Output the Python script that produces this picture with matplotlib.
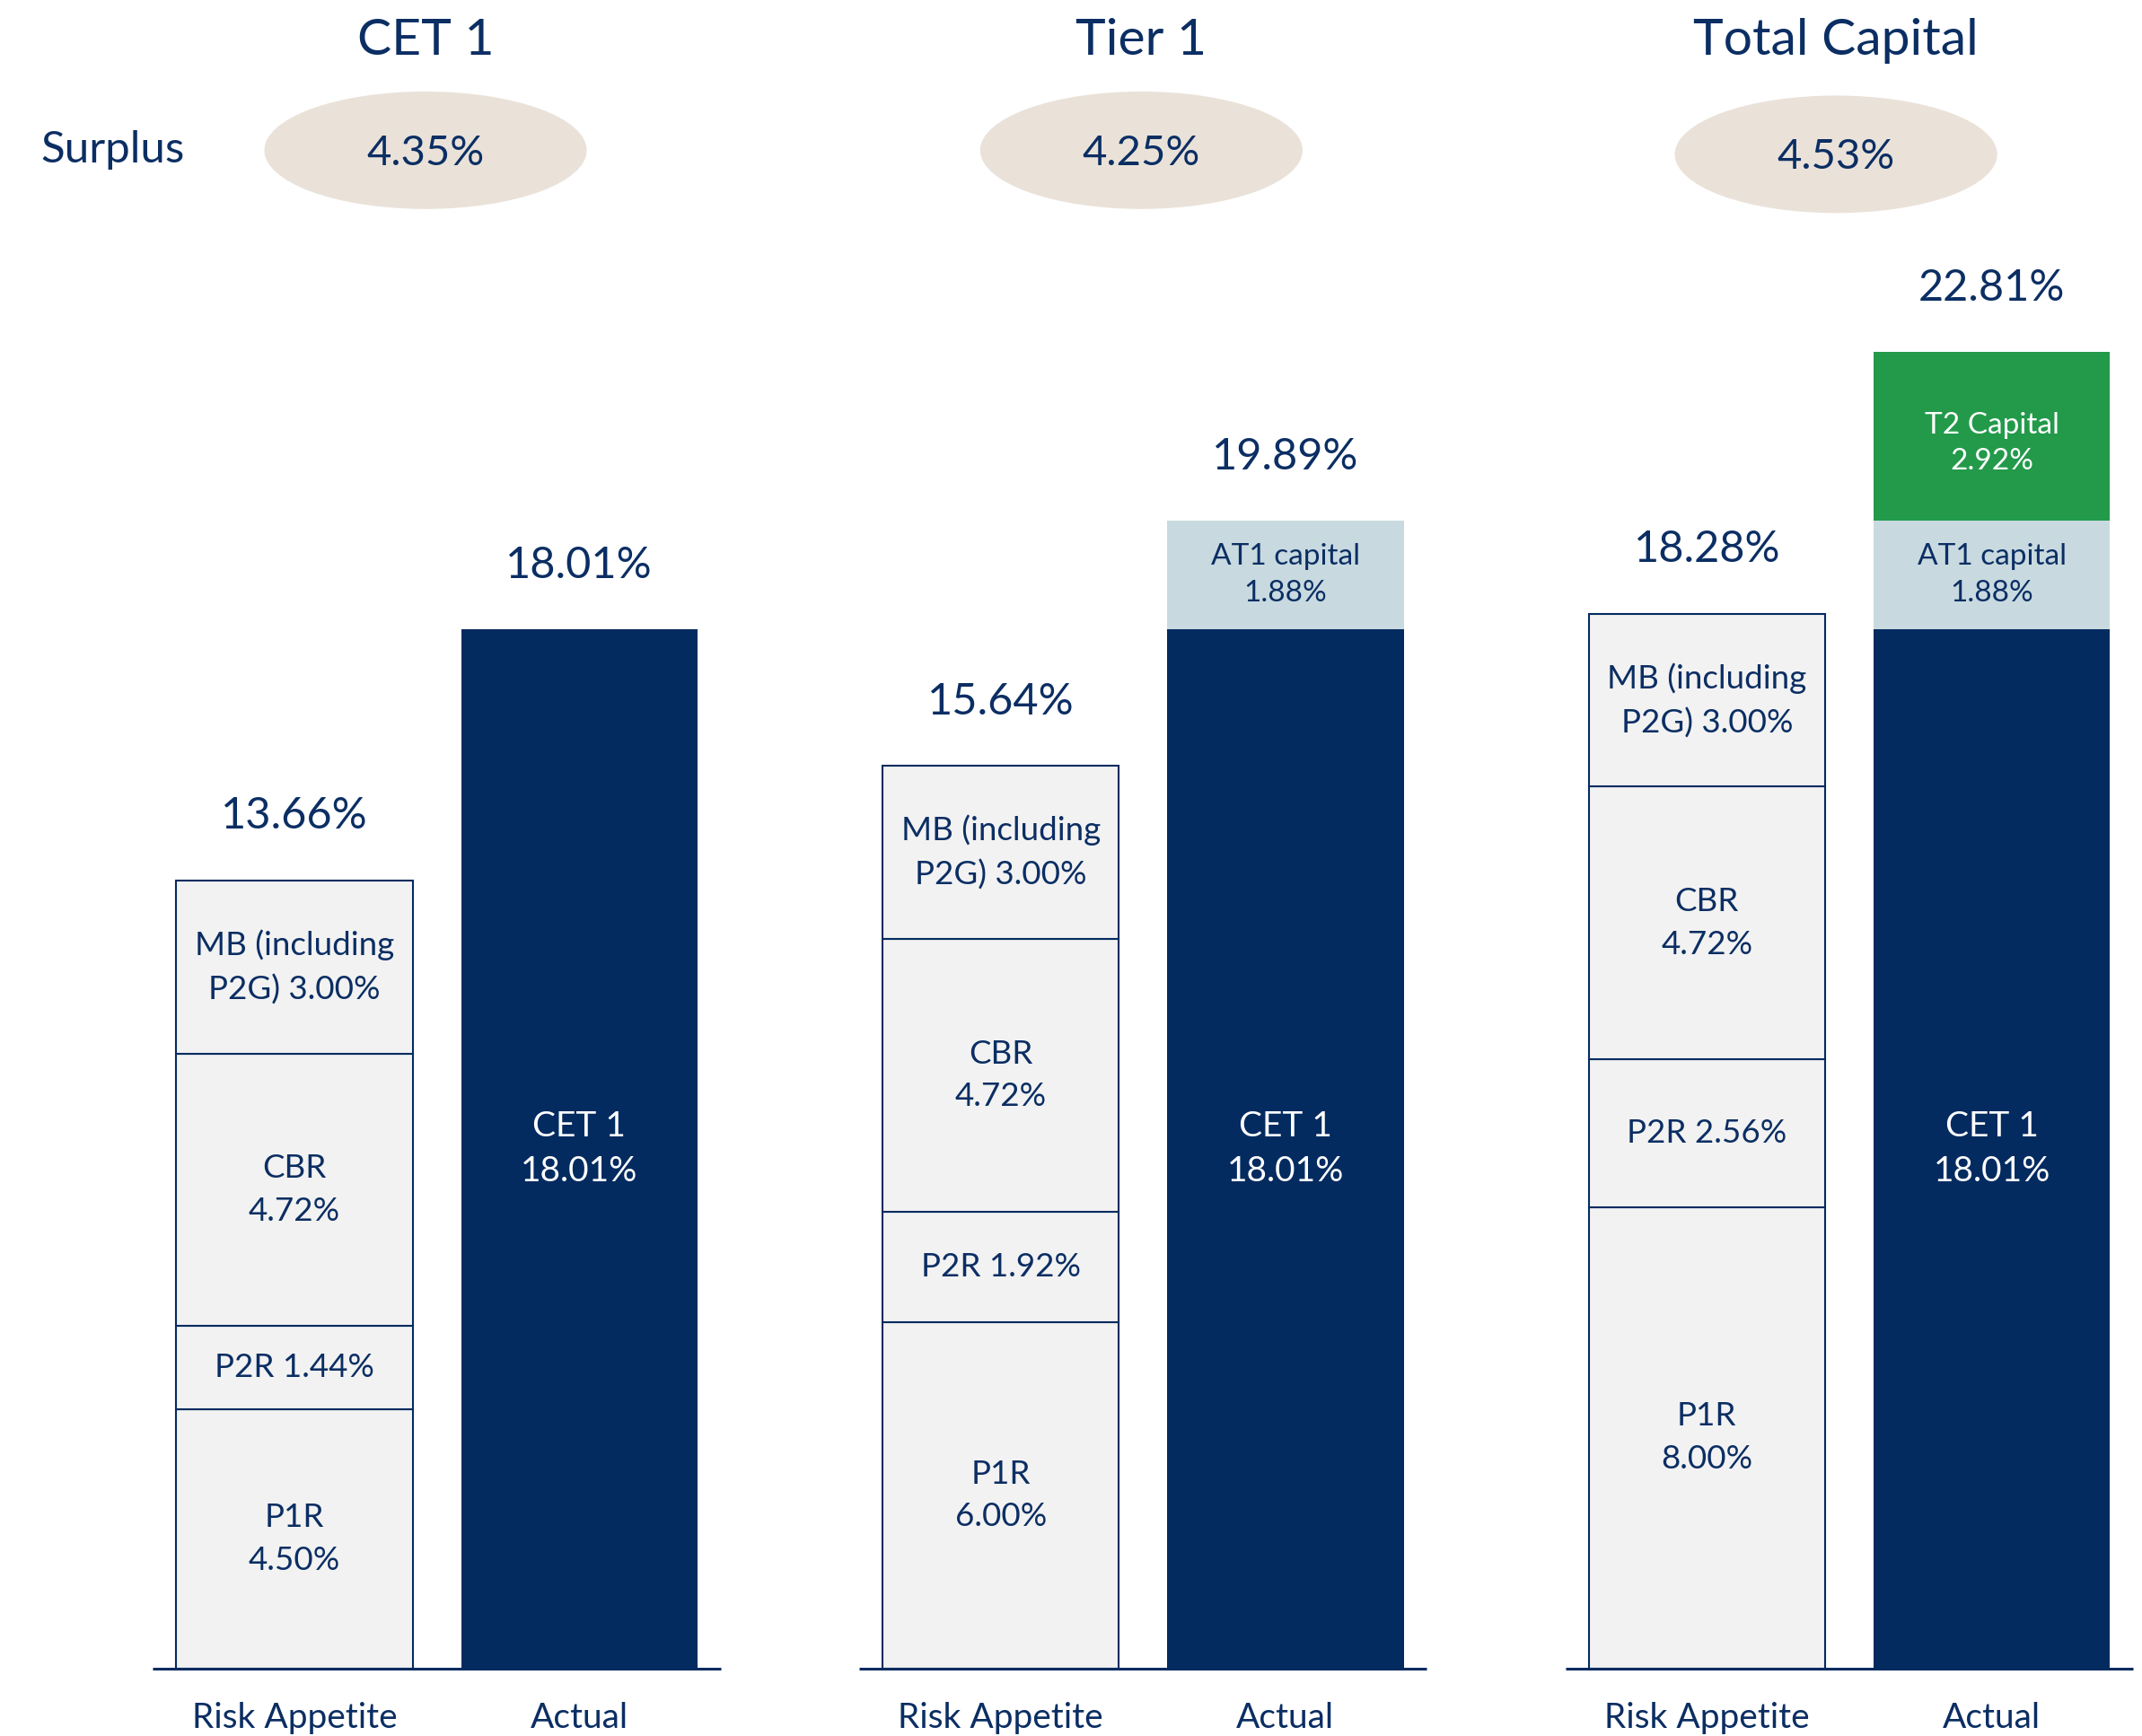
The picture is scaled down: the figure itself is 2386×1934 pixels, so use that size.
import numpy as np
import matplotlib.pyplot as plt
from matplotlib.patches import Ellipse

# panel titles and surplus bubbles
panels = ["CET 1", "Tier 1", "Total Capital"]
surplus = ["4.35%", "4.25%", "4.53%"]
bar_names = ["Risk Appetite", "Actual"]

# risk appetite stack (bottom -> top)
p1r = [4.50, 6.00, 8.00]
p2r = [1.44, 1.92, 2.56]
cbr = [4.72, 4.72, 4.72]
mb = [3.00, 3.00, 3.00]

# actual stack (bottom -> top)
cet1 = [18.01, 18.01, 18.01]
at1 = [0.00, 1.88, 1.88]
t2 = [0.00, 0.00, 2.92]

ra_labels = ["P1R\n{:.2f}%", "P2R {:.2f}%", "CBR\n{:.2f}%", "MB (including\nP2G) {:.2f}%"]
act_labels = ["CET 1\n{:.2f}%", "AT1 capital\n{:.2f}%", "T2 Capital\n{:.2f}%"]

NAVY = "#032B60"
TEXT = "#0B2E63"
GREY = "#F2F2F2"
AT1_BLUE = "#C8DAE0"
GREEN = "#229A4A"
BEIGE = "#EAE2D9"

plt.rcParams["font.family"] = ["Lato", "DejaVu Sans"]

fig = plt.figure(figsize=(23.86, 19.34), dpi=100)
ax = fig.add_axes([0, 0, 1, 1])
ax.set_xlim(0, 1568)
ax.set_ylim(-49.4 / 42.25, (1271 - 49.4) / 42.25)
ax.axis("off")

bar_w = 173
ra_x = 215.5 + 517 * np.arange(3)
act_x = ra_x + 208.5
title_x = ra_x + np.array([96, 103, 94.5])

ra_stack = np.array([p1r, p2r, cbr, mb])
act_stack = np.array([cet1, at1, t2])
act_colors = [NAVY, AT1_BLUE, GREEN]
act_text = ["white", TEXT, "white"]
act_size = [28, 24, 24]
act_spacing = [1.47, 1.45, 1.45]
act_shift = [0, 0, -0.12]

for i in range(3):
    # risk appetite bar
    bottom = 0.0
    for j, v in enumerate(ra_stack[:, i]):
        ax.bar(ra_x[i], v, bottom=bottom, width=bar_w, color=GREY,
               edgecolor=NAVY, linewidth=1.5, zorder=2)
        ax.text(ra_x[i], bottom + v / 2, ra_labels[j].format(v),
                ha="center", va="center", color=TEXT, fontsize=26.5,
                linespacing=1.55, zorder=3)
        bottom += v
    ax.text(ra_x[i], bottom + 1.11, f"{bottom:.2f}%", ha="center",
            va="center", color=TEXT, fontsize=35)

    # actual bar
    bottom = 0.0
    for j, v in enumerate(act_stack[:, i]):
        if v <= 0:
            continue
        ax.bar(act_x[i], v, bottom=bottom, width=bar_w, color=act_colors[j],
               linewidth=0, zorder=2)
        ax.text(act_x[i], bottom + v / 2 + act_shift[j],
                act_labels[j].format(v), ha="center", va="center",
                color=act_text[j], fontsize=act_size[j],
                linespacing=act_spacing[j], zorder=3)
        bottom += v
    ax.text(act_x[i], bottom + 1.11, f"{bottom:.2f}%", ha="center",
            va="center", color=TEXT, fontsize=35)

    # baseline and category labels
    ax.plot([ra_x[i] - bar_w / 2 - 17, act_x[i] + bar_w / 2 + 17], [0, 0],
            color=NAVY, linewidth=2.2, solid_capstyle="butt", zorder=4)
    for x, name in zip([ra_x[i], act_x[i]], bar_names):
        ax.text(x, -0.86, name, ha="center", va="center", color=TEXT,
                fontsize=28)

    # title and surplus bubble
    cx = title_x[i]
    ax.text(cx, 28.2, panels[i], ha="center", va="center", color=TEXT,
            fontsize=41)
    cy = 26.31 if i < 2 else 26.24
    ax.add_patch(Ellipse((cx, cy), 236, 86 / 42.25, facecolor=BEIGE,
                         edgecolor="none", zorder=1))
    ax.text(cx, cy - 0.05, surplus[i], ha="center", va="center",
            color=TEXT, fontsize=34, zorder=2)

ax.text(30, 26.31, "Surplus", ha="left", va="center", color=TEXT,
        fontsize=35.5)

fig.savefig("out.png", dpi=100)
